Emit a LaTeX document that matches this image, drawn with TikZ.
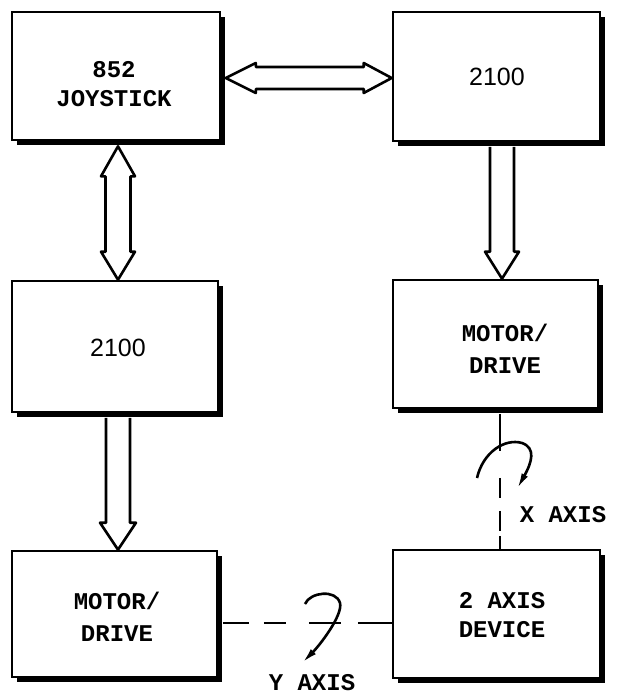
\documentclass[tikz,border=0pt]{standalone}
\usepackage{fontspec}
\newfontfamily\lmono{Liberation Mono}
\newfontfamily\lsans{Liberation Sans}
\usetikzlibrary{calc,shadows,arrows.meta}
\begin{document}
\begin{tikzpicture}[x=1pt,y=-1pt,
  blk/.style={draw, line width=2.6pt, fill=white, inner sep=0pt,
    drop shadow={shadow xshift=4.5pt, shadow yshift=-4.5pt, fill=black, opacity=1}},
  mtxt/.style={font=\lmono\bfseries\fontsize{24}{29}\selectfont, align=center, inner sep=0pt},
  mtxtw/.style={font=\lmono\bfseries\fontsize{24}{32}\selectfont, align=center, inner sep=0pt},
  stxt/.style={font=\lsans\fontsize{25}{29}\selectfont, inner sep=0pt},
  barrow/.style={draw, line width=2.6pt, fill=white, line join=round},
  axisline/.style={line width=2.4pt},
  curl/.style={line width=2.6pt, -{Latex[length=16pt,width=7pt]}},
]
\path[use as bounding box, fill=white] (0,0) rectangle (616,696);

% boxes
\node[blk, minimum width=208pt, minimum height=128pt] (joy) at (116,76) {};
\node[blk, minimum width=207pt, minimum height=129pt] (tr)  at (496.5,76.5) {};
\node[blk, minimum width=206pt, minimum height=131pt] (ml)  at (115,346.5) {};
\node[blk, minimum width=205pt, minimum height=128pt] (mr)  at (495.5,344) {};
\node[blk, minimum width=205pt, minimum height=126pt] (bl)  at (114.5,614) {};
\node[blk, minimum width=207pt, minimum height=128pt] (dev) at (496.5,614) {};

% texts
\node[mtxt]  (tjoy) at (114,84)  {852\\JOYSTICK};
\node[stxt]  (ttr)  at (497,77)  {2100};
\node[stxt]  (tml)  at (118,348) {2100};
\node[mtxtw] (tmr)  at (505,349) {MOTOR/\\DRIVE};
\node[mtxtw] (tbl)  at (117,617) {MOTOR/\\DRIVE};
\node[mtxt]  (tdev) at (502,615) {2 AXIS\\DEVICE};
\node[mtxt]  (xl)   at (563,515) {X AXIS};
\node[mtxt]  (yl)   at (312,683) {Y AXIS};

% horizontal double arrow
\coordinate (h1) at ($(joy.east)+(4.5,2)$);
\coordinate (h2) at (tr.west |- h1);
\draw[barrow] (h1) -- ($(h1)+(30,-15)$) -- ($(h1)+(30,-11)$) -- ($(h2)+(-28,-11)$)
  -- ($(h2)+(-28,-15)$) -- (h2) -- ($(h2)+(-28,15)$) -- ($(h2)+(-28,11)$)
  -- ($(h1)+(30,11)$) -- ($(h1)+(30,15)$) -- cycle;

% vertical double arrow
\coordinate (v1) at ($(joy.south)+(2,5)$);
\coordinate (v2) at (ml.north -| v1);
\draw[barrow] (v1) -- ($(v1)+(17,30)$) -- ($(v1)+(12.5,30)$) -- ($(v2)+(12.5,-28)$)
  -- ($(v2)+(17,-28)$) -- (v2) -- ($(v2)+(-17,-28)$) -- ($(v2)+(-12.5,-28)$)
  -- ($(v1)+(-12.5,30)$) -- ($(v1)+(-17,30)$) -- cycle;

% right down arrow
\coordinate (r1) at ($(tr.south)+(5.5,4.5)$);
\coordinate (r2) at (mr.north -| r1);
\draw[barrow] ($(r1)+(-12,0)$) -- ($(r2)+(-12,-27)$) -- ($(r2)+(-17,-27)$) -- (r2)
  -- ($(r2)+(17,-27)$) -- ($(r2)+(12,-27)$) -- ($(r1)+(12,0)$);

% left down arrow
\coordinate (l1) at ($(ml.south)+(3,4.5)$);
\coordinate (l2) at (bl.north -| l1);
\draw[barrow] ($(l1)+(-12,0)$) -- ($(l2)+(-12,-27)$) -- ($(l2)+(-18,-27)$) -- (l2)
  -- ($(l2)+(18,-27)$) -- ($(l2)+(12,-27)$) -- ($(l1)+(12,0)$);

% dashed axis lines
\coordinate (x1) at ($(mr.south)+(4.5,4.5)$);
\coordinate (x2) at (dev.north -| x1);
\draw[axisline, dash pattern=on 37pt off 27pt on 20pt off 13pt on 20pt off 5pt on 20pt] (x1) -- (x2);
\coordinate (y1) at ($(bl.east)+(4.5,9)$);
\coordinate (y2) at (dev.west |- y1);
\draw[axisline, dash pattern=on 26pt off 15pt on 22pt off 23pt on 32pt off 17pt on 40pt] (y1) -- (y2);

% rotation curls
\draw[curl] (477,478) .. controls (483,452) and (505,438) .. (522,443)
  .. controls (536,448) and (532,462) .. (517,489);
\draw[curl] (305,604) .. controls (310,592) and (336,589) .. (340,603)
  .. controls (343,615) and (320,645) .. (302,663);
\end{tikzpicture}
\end{document}
